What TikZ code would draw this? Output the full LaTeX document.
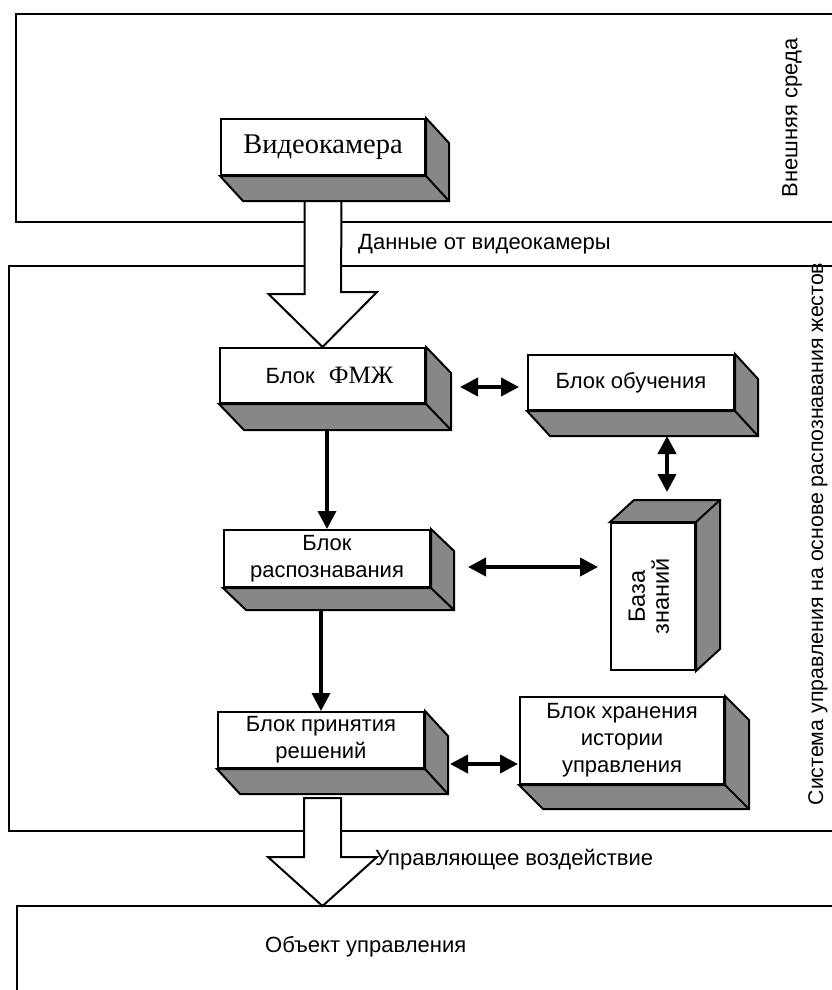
\documentclass[tikz,border=0pt]{standalone}
\usepackage{fontspec}
\setmainfont{Liberation Sans}
\newfontfamily\serifcyr{Liberation Serif}
\usetikzlibrary{arrows.meta}
\newcommand\extdown[3]{%
  \filldraw[shadeface] (#1.north east) -- ++(#2,#3) -- ([shift={(#2,#3)}]#1.south east) -- ([shift={(#2,#3)}]#1.south west) -- (#1.south west) -- (#1.south east) -- cycle;
  \draw[edge] (#1.south east) -- ++(#2,#3);
}
\newcommand\extup[3]{%
  \filldraw[shadeface] (#1.north west) -- ++(#2,#3) -- ([shift={(#2,#3)}]#1.north east) -- ([shift={(#2,#3)}]#1.south east) -- (#1.south east) -- (#1.north east) -- cycle;
  \draw[edge] (#1.north east) -- ++(#2,#3);
}
\begin{document}
\begin{tikzpicture}[x=1pt,y=-1pt,
  frame/.style={line width=2.2pt, draw=black},
  face/.style={draw, line width=2pt, fill=white, inner sep=0pt, font=\fontsize{22}{27}\selectfont, align=center},
  shadeface/.style={fill=black!47, draw=black, line width=2pt, line join=miter},
  edge/.style={line width=2pt, draw=black},
  hollow/.style={draw=black, line width=2pt, fill=white, line join=miter},
  dbl/.style={line width=4pt, {Triangle[length=18pt,width=18pt]}-{Triangle[length=18pt,width=18pt]}},
  one/.style={line width=3.5pt, -{Triangle[length=18pt,width=18pt]}},
  lbl/.style={font=\fontsize{22}{27}\selectfont, inner sep=0pt},
]
\useasboundingbox (0,0) rectangle (832,990);

% frames
\draw[frame] (836,14) -- (16,14) -- (16,222) -- (836,222);
\draw[frame] (836,266) -- (9,266) -- (9,831) -- (836,831);
\draw[frame] (836,906) -- (17,906) -- (17,995);

% boxes (front faces)
\node[face, minimum width=204pt, minimum height=56pt, font=\fontsize{28.5}{32}\serifcyr] (cam) at (323,147) {Видеокамера};
\node[face, minimum width=205pt, minimum height=55pt] (fmzh) at (322.5,375.5) {\hspace*{14pt}Блок\hspace{14pt}{\fontsize{25}{28}\serifcyr ФМЖ}};
\node[face, minimum width=206pt, minimum height=55pt] (obuch) at (631,382.5) {Блок обучения};
\node[face, minimum width=206pt, minimum height=57pt] (rasp) at (327,558.5) {Блок\\распознавания};
\node[face, minimum width=84pt, minimum height=147pt] (baza) at (653,596.5) {};
\node[rotate=90, align=center, font=\fontsize{23.5}{24}\selectfont, inner sep=0pt] (bazat) at ([shift={(-4,0)}]baza.center) {База\\знаний};
\node[face, minimum width=206pt, minimum height=56pt] (prin) at (321,740) {Блок принятия\\решений};
\node[face, minimum width=204pt, minimum height=87pt] (hran) at (622,740.5) {Блок хранения\\истории\\управления};

\extdown{cam}{23}{25}
\extdown{fmzh}{25}{26}
\extdown{obuch}{23}{25}
\extdown{rasp}{23}{22}
\extup{baza}{24}{-22}
\extdown{prin}{23}{25}
\extdown{hran}{24}{24}

% big hollow arrows
\coordinate (a1s) at ([shift={(0,25)}]cam.south);
\draw[hollow] ([shift={(-18.5,0)}]a1s) -- ++(0,93) -- ++(-36,0) -- (fmzh.north) -- ++(54.5,-55) -- ++(-36,0) -- ([shift={(18.5,0)}]a1s) -- cycle;
\coordinate (a2s) at (322.5,798);
\coordinate (objtop) at (322.5,906);
\draw[hollow] ([shift={(-18.5,0)}]a2s) -- ++(0,59) -- ++(-36,0) -- (objtop) -- ++(54.5,-49) -- ++(-36,0) -- ([shift={(18.5,0)}]a2s) -- cycle;

% connectors
\coordinate (d1a) at (460,387); \coordinate (d1b) at (519,387);
\coordinate (d2a) at (667,436); \coordinate (d2b) at (667,492);
\coordinate (d3a) at (468,567); \coordinate (d3b) at (598,567);
\coordinate (d4a) at (450,764); \coordinate (d4b) at (518,764);
\draw[dbl] (d1a) -- (d1b);
\draw[dbl] (d2a) -- (d2b);
\draw[dbl] (d3a) -- (d3b);
\draw[dbl] (d4a) -- (d4b);
\draw[one] ([shift={(4.5,26)}]fmzh.south) -- (rasp.north);
\draw[one] ([shift={(-6,22)}]rasp.south) -- (prin.north);

% labels
\node[lbl, rotate=90] (ext) at (792,118) {Внешняя среда};
\node[lbl, anchor=west] (data) at (358,244) {Данные от видеокамеры};
\node[lbl, rotate=90, font=\fontsize{21.3}{26}\selectfont] (sys) at (818,534) {Система управления на основе распознавания жестов};
\node[lbl, anchor=west] (ctrl) at (375,860) {Управляющее воздействие};
\node[lbl, anchor=west] (obj) at (265,947) {Объект управления};
\end{tikzpicture}
\end{document}
